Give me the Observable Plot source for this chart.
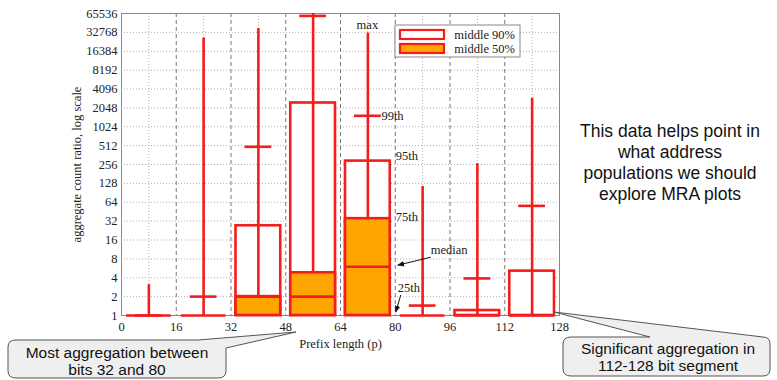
<!DOCTYPE html>
<html>
<head>
<meta charset="utf-8">
<script src="https://cdn.jsdelivr.net/npm/d3@7"></script>
<script src="https://cdn.jsdelivr.net/npm/@observablehq/plot@0.6"></script>
<style>
  html, body { margin: 0; padding: 0; background: #fff; }
  #chart { width: 777px; height: 380px; position: relative; }
</style>
</head>
<body>
<div id="chart"></div>
<script>
// Prefix-length bins (start of each 16-bit segment)
const bins = [0, 16, 32, 48, 64, 80, 96, 112];
// Percentiles of the aggregate count ratio per bin
const p5   = [1, 1, 1, 1, 1, 1, 1, 1];
const p25  = [1, 1, 1, 1, 1, 1, 1, 1];
const p50  = [1, 1, 2, 2, 6, 1, 1, 1];
const p75  = [1, 1, 2, 4.8, 35, 1, 1, 1];
const p95  = [1, 1, 27, 2450, 290, 1, 1.2, 5.1];
const p99  = [1, 2, 490, 60000, 1530, 1.44, 3.9, 56];
const pmax = [3.1, 26600, 37800, 65536, 32000, 114, 263, 2900];

// Axis ticks
const xTicks = [0, 16, 32, 48, 64, 80, 96, 112, 128];
const xMinor = [8, 24, 40, 56, 72, 88, 104, 120];
const xMajorGrid = [16, 32, 48, 64, 80, 96, 112];
const yTicks = [1, 2, 4, 8, 16, 32, 64, 128, 256, 512, 1024, 2048, 4096, 8192, 16384, 32768, 65536];

// Text blocks
const legendLabels = ["middle 90%", "middle 50%"];
const sideNote = ["This data helps point in", "what address", "populations we should", "explore MRA plots"];
const leftCallout = ["Most aggregation between", "bits 32 and 80"];
const rightCallout = ["Significant aggregation in", "112-128 bit segment"];

const rows = bins.map((b, i) => ({
  lo: b, hi: b + 16, mid: b + 8,
  p5: p5[i], p25: p25[i], p50: p50[i], p75: p75[i], p95: p95[i], p99: p99[i], max: pmax[i]
}));

const RED = "#f41c1c";
const ORANGE = "#ffa500";
const SW = 2.6;
const SERIF = "Liberation Serif, Times New Roman, serif";
const SANS = "Liberation Sans, Arial, sans-serif";

const plot = Plot.plot({
  width: 777,
  height: 380,
  marginLeft: 121,
  marginRight: 218,
  marginTop: 13,
  marginBottom: 65,
  style: { fontFamily: SERIF, fontSize: "12.5px", background: "#fff", color: "#222" },
  x: { domain: [0, 128] },
  y: { type: "log", base: 2, domain: [1, 65536] },
  marks: [
    // grid
    Plot.ruleY(yTicks.slice(1, -1), { stroke: "#9a9a9a", strokeWidth: 0.8, strokeDasharray: "1,2" }),
    Plot.ruleX(xMinor, { stroke: "#9a9a9a", strokeWidth: 0.8, strokeDasharray: "1,2" }),
    Plot.ruleX(xMajorGrid, { stroke: "#777", strokeWidth: 1, strokeDasharray: "4,3" }),
    Plot.frame({ stroke: "#888", strokeWidth: 1 }),
    Plot.axisX({ ticks: xTicks, tickSize: 0, tickPadding: 7, tickFormat: d => String(d),
      label: "Prefix length (p)", labelAnchor: "center", labelArrow: "none", labelOffset: 32 }),
    Plot.axisY({ ticks: yTicks, tickSize: 0, tickPadding: 4, tickFormat: d => String(d),
      label: "aggregate count ratio, log scale", labelAnchor: "center", labelArrow: "none", labelOffset: 49 }),
    // middle 90% box
    Plot.rect(rows.filter(d => d.p95 > d.p5), {
      x1: "lo", x2: "hi", y1: "p5", y2: "p95", insetLeft: 5, insetRight: 5,
      fill: "#fff", stroke: RED, strokeWidth: SW
    }),
    // whisker up to max
    Plot.ruleX(rows, { x: "mid", y1: "p5", y2: "max", stroke: RED, strokeWidth: SW }),
    // middle 50% box
    Plot.rect(rows.filter(d => d.p75 > d.p25), {
      x1: "lo", x2: "hi", y1: "p25", y2: "p75", insetLeft: 5, insetRight: 5,
      fill: ORANGE, stroke: RED, strokeWidth: SW
    }),
    // median
    Plot.ruleY(rows, { y: "p50", x1: "lo", x2: "hi", insetLeft: 5, insetRight: 5, stroke: RED, strokeWidth: SW }),
    // 99th percentile
    Plot.ruleY(rows, { y: "p99", x1: "lo", x2: "hi", insetLeft: 14, insetRight: 14, stroke: RED, strokeWidth: SW })
  ]
});

document.getElementById("chart").appendChild(plot);

const svg = d3.select(plot);
const xs = plot.scale("x");
const ys = plot.scale("y");
const X = v => xs.apply(v);
const Y = v => ys.apply(v);

// arrowhead
svg.append("defs").append("marker")
  .attr("id", "ah").attr("viewBox", "0 0 10 10").attr("refX", 9).attr("refY", 5)
  .attr("markerWidth", 7).attr("markerHeight", 7).attr("orient", "auto-start-reverse")
  .append("path").attr("d", "M0,1 L10,5 L0,9 z").attr("fill", "#111");

// percentile labels on the 64-80 bin
const k = rows[4];
const lab = svg.append("g").attr("font-family", SERIF).attr("font-size", 12.5).attr("fill", "#222")
  .attr("text-anchor", "start");
lab.append("text").attr("x", X(k.mid)).attr("y", Y(k.max) - 4).attr("text-anchor", "middle").text("max");
lab.append("text").attr("x", X(k.mid) + 14).attr("y", Y(k.p99)).attr("dy", "0.35em").text("99th");
lab.append("text").attr("x", X(k.hi) + 1).attr("y", Y(k.p95) - 5).attr("dy", "0.35em").text("95th");
lab.append("text").attr("x", X(k.hi) + 1).attr("y", Y(k.p75) - 2).attr("dy", "0.35em").text("75th");
lab.append("text").attr("x", X(k.hi) + 36).attr("y", Y(k.p50) - 12).text("median");
lab.append("text").attr("x", X(k.hi) + 3).attr("y", Y(k.p25) - 23).text("25th");
svg.append("line").attr("x1", X(k.hi) + 36).attr("y1", Y(k.p50) - 9)
  .attr("x2", X(k.hi) + 3).attr("y2", Y(k.p50) - 1)
  .attr("stroke", "#111").attr("stroke-width", 1).attr("marker-end", "url(#ah)");
svg.append("line").attr("x1", X(k.hi) + 6).attr("y1", Y(k.p25) - 20)
  .attr("x2", X(k.hi) + 1).attr("y2", Y(k.p25) - 3)
  .attr("stroke", "#111").attr("stroke-width", 1).attr("marker-end", "url(#ah)");

// legend
const lg = svg.append("g").attr("transform", "translate(395,25)");
lg.append("rect").attr("width", 125).attr("height", 32).attr("fill", "#fff").attr("stroke", "#888").attr("stroke-width", 1);
[["#fff", legendLabels[0]], [ORANGE, legendLabels[1]]].forEach(([c, t], i) => {
  lg.append("rect").attr("x", 5).attr("y", 5 + i * 14).attr("width", 44).attr("height", 9)
    .attr("fill", c).attr("stroke", RED).attr("stroke-width", 2.2);
  lg.append("text").attr("x", 120).attr("y", 10 + i * 14).attr("dy", "0.35em").attr("text-anchor", "end")
    .attr("font-family", SERIF).attr("font-size", 12.5).attr("fill", "#222").text(t);
});

// side note
const note = svg.append("text").attr("font-family", SANS).attr("font-size", 17.5).attr("fill", "#111")
  .attr("text-anchor", "middle");
sideNote.forEach((t, i) => note.append("tspan").attr("x", 670).attr("y", 137 + i * 21).text(t));

// callout bubbles
function callout(pathD, lines, cx, y0) {
  svg.append("path").attr("d", pathD).attr("fill", "#efefef").attr("stroke", "#555").attr("stroke-width", 1);
  const t = svg.append("text").attr("font-family", SANS).attr("font-size", 15.5).attr("fill", "#111")
    .attr("text-anchor", "middle");
  lines.forEach((s, i) => t.append("tspan").attr("x", cx).attr("y", y0 + i * 17).text(s));
}
// left bubble with pointer toward the 48 tick
callout(
  "M16,340 L198,340 L296,332 L226,348 L226,371 Q226,378 218,378 L16,378 Q8,378 8,371 L8,347 Q8,340 16,340 Z",
  leftCallout, 117, 358
);
// right bubble with pointer toward the 128 corner
callout(
  "M571,337 L650,337 L554,312 L763,337 Q770,337 770,344 L770,369 Q770,376 763,376 L571,376 Q563,376 563,369 L563,344 Q563,337 571,337 Z",
  rightCallout, 668, 354
);
</script>
</body>
</html>
